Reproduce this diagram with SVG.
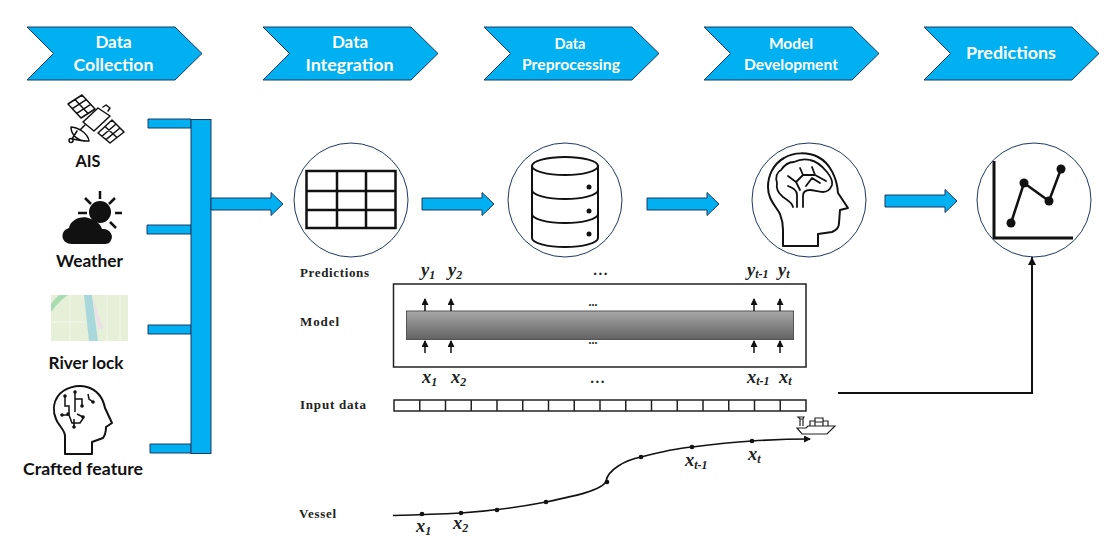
<svg xmlns="http://www.w3.org/2000/svg" width="1118" height="559" viewBox="0 0 1118 559">
<style>
.blue{fill:#00b0f0;stroke:#1f3864;stroke-width:1}
.hd{font-family:Lato,"Open Sans",sans-serif;font-weight:700;font-size:17px;fill:#fff;text-anchor:middle}
.lb{font-family:Lato,"Open Sans",sans-serif;font-weight:700;font-size:17.500px;fill:#111;text-anchor:middle}
.sf{font-family:"Liberation Serif",serif;font-weight:700;font-size:13px;fill:#222}
.v{font-family:"Liberation Serif",serif;font-weight:700;font-style:italic;font-size:18.500px;fill:#222}
.s{font-size:12px}
.ring{fill:#fff;stroke:#1f3864;stroke-width:1}
.ic{fill:none;stroke:#111;stroke-width:2;stroke-linejoin:round;stroke-linecap:round}
.thick{fill:none;stroke:#111;stroke-width:3;stroke-linejoin:round}
.k{fill:#111}
.ln{fill:none;stroke:#111;stroke-width:1.600}
.cell{fill:#fff;stroke:#222;stroke-width:1.500}
.dots{font-family:"Liberation Serif",serif;font-weight:700;fill:#222;text-anchor:middle;letter-spacing:1.500px}
</style>
<defs>
<linearGradient id="bar" x1="0" y1="0" x2="0" y2="1"><stop offset="0" stop-color="#a8a8a8"/><stop offset="1" stop-color="#626262"/></linearGradient>
<marker id="ah" markerUnits="userSpaceOnUse" markerWidth="8" markerHeight="8" refX="6" refY="3.500" orient="auto"><path d="M0 0L7 3.500L0 7z" fill="#111"/></marker>
<marker id="ab" markerUnits="userSpaceOnUse" markerWidth="10" markerHeight="10" refX="8" refY="4" orient="auto"><path d="M0 0L8 4L0 8z" fill="#111"/></marker>
<path id="chev" d="M0 0H148L175 26.500L148 53H0L26.500 26.500Z"/>
<path id="blk" d="M0 -6H60V-11.500L72 0L60 11.500V6H0Z"/>
<path id="up" d="M0 0V-12" stroke="#111" stroke-width="1.500" marker-end="url(#ah)"/>
</defs>

<g id="stage-data-collection"><use href="#chev" x="27" y="27" class="blue"/><text class="hd" x="113.500" y="48">Data</text><text class="hd" x="113.500" y="71" textLength="80" lengthAdjust="spacingAndGlyphs">Collection</text></g>
<g id="stage-data-integration"><use href="#chev" x="263" y="27" class="blue"/><text class="hd" x="350" y="48">Data</text><text class="hd" x="349.500" y="71" textLength="88" lengthAdjust="spacingAndGlyphs">Integration</text></g>
<g id="stage-data-preprocessing"><use href="#chev" x="484" y="27" class="blue"/><text class="hd" x="570" y="49" style="font-size:14.500px">Data</text><text class="hd" x="571" y="70" style="font-size:15px" textLength="98" lengthAdjust="spacingAndGlyphs">Preprocessing</text></g>
<g id="stage-model-development"><use href="#chev" x="704" y="27" class="blue"/><text class="hd" x="791" y="49" style="font-size:15.500px">Model</text><text class="hd" x="791" y="70" style="font-size:15.500px" textLength="94" lengthAdjust="spacingAndGlyphs">Development</text></g>
<g id="stage-predictions"><use href="#chev" x="924" y="27" class="blue"/><text class="hd" x="1011" y="59" style="font-size:17px" textLength="90" lengthAdjust="spacingAndGlyphs">Predictions</text></g>

<g id="node-ais">
<g class="ic" style="stroke-width:1.500">
<path d="M68 104L82 95L95 109L81 118ZM75 99.500L88 113.500M72.300 108.700L86.300 99.700M76.700 113.300L90.700 104.300"/>
<path d="M83 122L98 108L110 116L94 131ZM103 107L106 105L110 108L108 111"/>
<path d="M98 133L112 120L124 132L110 143ZM105 126.500L117 137.500M102 136.300L116 124M106 139.700L120 128"/>
<path d="M71 127C71 135 78 142 89 141C88 134 80 128 71 127ZM72 139L77 131M72 139L84 141M80 130L85 125"/>
<circle cx="71" cy="140.500" r="2"/>
</g>
<text class="lb" x="88" y="167" textLength="25" lengthAdjust="spacingAndGlyphs">AIS</text>
</g>
<g id="node-weather">
<circle cx="100" cy="212" r="11" class="k"/>
<path d="M100 191V199M85 198L91 204M78 213H87M115 198L109 204M115 213H122M110 222L116 228" fill="none" stroke="#111" stroke-width="2.500"/>
<path class="k" d="M72 244C61 244 59 231 69 228C70 220 82 214 91 219C97 221 101 225 102 229C110 228 114 236 111 240C110 243 108 244 104 244Z"/>
<text class="lb" x="89.500" y="267" textLength="67" lengthAdjust="spacingAndGlyphs">Weather</text>
</g>
<g id="node-river-lock">
<rect x="51" y="295" width="77" height="46" fill="#e6efd8"/>
<path d="M51 312C56 305 62 299 68 295H59C56 298 53 301 51 304Z" fill="#a8dcb0"/>
<path d="M84 295H92L98 341H89Z" fill="#a9d8dc"/>
<path d="M92 295L100 320L104 328L98 329Z" fill="#ecdfe8"/>
<path d="M70 295V341M51 322H85M107 295V341M120 295V341" stroke="#f4f7ea" fill="none"/>
<text class="lb" x="86" y="369" textLength="75" lengthAdjust="spacingAndGlyphs">River lock</text>
</g>
<g id="node-crafted-feature">
<path class="ic" d="M65 454H92V442L103 438C106 434 106 430 106 427L112 423L105 408C103 398 97 390 87 387C77 384 64 388 58 396C53 403 53 412 56 419C58 425 65 430 65 436Z"/>
<g fill="none" stroke="#111" stroke-width="1.500"><path d="M75 392V412M75 399H82V406M65 396V406H69V414M62 415H69L72 423H80L84 417M74 419V426M77 414L83 417M88 394L89 399L93 402"/></g>
<g class="k"><circle cx="75" cy="392" r="1.800"/><circle cx="82" cy="406" r="1.800"/><circle cx="65" cy="396" r="1.800"/><circle cx="68" cy="414" r="1.800"/><circle cx="62" cy="415" r="1.800"/><circle cx="74" cy="427" r="1.800"/><circle cx="83" cy="417" r="1.800"/><circle cx="93" cy="402" r="1.800"/></g>
<text class="lb" x="83" y="475" textLength="120" lengthAdjust="spacingAndGlyphs">Crafted feature</text>
</g>

<g id="connectors">
<path class="blue" d="M148 119H191V128H148ZM147 225H191V234H147ZM148 325H191V334H148ZM150 444H191V453H150Z"/>
<rect class="blue" x="191" y="119.500" width="20" height="334"/>
<use href="#blk" x="211" y="204" class="blue"/>
<use href="#blk" x="422" y="204" class="blue"/>
<use href="#blk" x="647" y="204" class="blue"/>
<use href="#blk" x="885" y="201" class="blue"/>
<path class="ln" d="M838 393H1032V257" style="stroke-width:2" marker-end="url(#ab)"/>
</g>

<g id="node-table">
<circle class="ring" cx="351" cy="200" r="57"/>
<path d="M306.500 171H395.500V228H306.500ZM337 171V228M366 171V228M306.500 191H395.500M306.500 210H395.500" fill="none" stroke="#111" stroke-width="2.500"/>
</g>
<g id="node-database">
<circle class="ring" cx="565" cy="200" r="57"/>
<g class="ic"><ellipse cx="565" cy="166" rx="33" ry="9"/><path d="M532 166V238C532 243 547 247 565 247S598 243 598 238V166M532 190C532 195 547 199 565 199S598 195 598 190M532 214C532 219 547 223 565 223S598 219 598 214"/></g>
<circle class="k" cx="589" cy="187" r="2.500"/><circle class="k" cx="589" cy="211" r="2.500"/><circle class="k" cx="589" cy="234" r="2.500"/>
</g>
<g id="node-brain">
<circle class="ring" cx="809" cy="200" r="57"/>
<path class="ic" d="M783 246H818V234L832 232C837 230 839 226 839 223L840 210L848 208L838 193C837 178 830 163 818 157C808 152 794 152 784 158C773 164 768 176 768 187C768 200 776 206 780 214C782 219 783 222 783 230Z"/>
<path class="ic" style="stroke-width:1.800" d="M793 207C792 202 787 200 783 197C778 193 776 188 777 183C775 177 777 172 781 170C785 164 790 162 794 162C800 159 806 159 810 160C817 161 822 166 827 172C831 177 833 181 832 185C830 190 826 192 823 192C818 192 814 190 810 190C806 190 803 192 803 196V207M797 207V195C797 190 793 188 788 186M800 190L796 182L788 176M796 182L803 175L800 168M803 175H815L826 181M815 175L812 167M806 186L812 178L820 183"/>
</g>
<g id="node-chart">
<circle class="ring" cx="1034" cy="200" r="57"/>
<path class="thick" d="M994 161V238H1073"/>
<path d="M1011 223L1024 183L1049 201L1061 169" fill="none" stroke="#111" stroke-width="2.500"/>
<circle class="k" cx="1011" cy="223" r="4.500"/><circle class="k" cx="1024" cy="183" r="4.500"/><circle class="k" cx="1049" cy="201" r="4.500"/><circle class="k" cx="1061" cy="169" r="4.500"/>
</g>

<g id="node-lstm">
<text class="sf" x="300" y="277" textLength="69">Predictions</text>
<text class="sf" x="300" y="326" textLength="39">Model</text>
<text class="sf" x="300" y="409" textLength="66">Input data</text>
<text class="sf" x="299" y="518" textLength="37">Vessel</text>
<rect x="393.500" y="284" width="412.500" height="83" fill="#fff" stroke="#222" stroke-width="1.500"/>
<rect x="406.500" y="311" width="387" height="28.500" fill="url(#bar)" stroke="#555" stroke-width="1"/>
<use href="#up" x="425" y="311"/><use href="#up" x="451" y="311"/><use href="#up" x="754" y="311"/><use href="#up" x="780" y="311"/>
<use href="#up" x="425" y="353"/><use href="#up" x="451" y="353"/><use href="#up" x="754" y="353"/><use href="#up" x="780" y="353"/>
<text class="v" x="421" y="276">y<tspan class="s" dy="3">1</tspan></text>
<text class="v" x="448" y="276">y<tspan class="s" dy="3">2</tspan></text>
<text class="v" x="747" y="276">y<tspan class="s" dy="2">t-1</tspan></text>
<text class="v" x="778" y="276">y<tspan class="s" dy="2">t</tspan></text>
<text class="v" x="422" y="383">x<tspan class="s" dy="3">1</tspan></text>
<text class="v" x="451" y="383">x<tspan class="s" dy="3">2</tspan></text>
<text class="v" x="747" y="383">x<tspan class="s" dy="2">t-1</tspan></text>
<text class="v" x="779" y="383">x<tspan class="s" dy="2">t</tspan></text>
<text class="v" x="416" y="532">x<tspan class="s" dy="3">1</tspan></text>
<text class="v" x="453" y="529">x<tspan class="s" dy="3">2</tspan></text>
<text class="v" x="685" y="466">x<tspan class="s" dy="3">t-1</tspan></text>
<text class="v" x="748" y="460">x<tspan class="s" dy="3">t</tspan></text>
<text class="dots" x="601" y="275" style="font-size:15px">...</text>
<text class="dots" x="593" y="306" style="font-size:12px;letter-spacing:0">...</text>
<text class="dots" x="593" y="344" style="font-size:12px;letter-spacing:0">...</text>
<text class="dots" x="598" y="383" style="font-size:15px">...</text>
<g class="cell"><rect x="394" y="400" width="412" height="11"/><path d="M419.750 400V411M445.500 400V411M471.250 400V411M497 400V411M522.750 400V411M548.500 400V411M574.250 400V411M600 400V411M625.750 400V411M651.500 400V411M677.250 400V411M703 400V411M728.750 400V411M754.500 400V411M780.250 400V411"/></g>
</g>

<g id="node-ship" fill="none" stroke="#222" stroke-width="1.200">
<path d="M797 428H806L808 426H835L827 434H802Z"/>
<path d="M800 426V419H803V426M798 417H804L803 419H800Z"/>
<path d="M810 426V421H815V426M815 426V418H823V426M823 426V421H828V426M815 422H823"/>
</g>

<g id="node-trajectory">
<path class="ln" d="M393 515.500C410 515 440 514 461 513C490 511 520 507 546 502C575 496 603 490 606 481C608 470 625 460 641 457C660 452 680 448 692 447C715 444 735 442 752 441C775 439.500 790 439 810 439" marker-end="url(#ah)"/>
<g class="k"><circle cx="422" cy="514" r="2.300"/><circle cx="461" cy="513" r="2.300"/><circle cx="497" cy="510" r="2.300"/><circle cx="546" cy="502" r="2.300"/><circle cx="607" cy="482" r="2.300"/><circle cx="641" cy="457" r="2.300"/><circle cx="692" cy="447" r="2.300"/><circle cx="752" cy="441" r="2.300"/></g>
</g>
</svg>
